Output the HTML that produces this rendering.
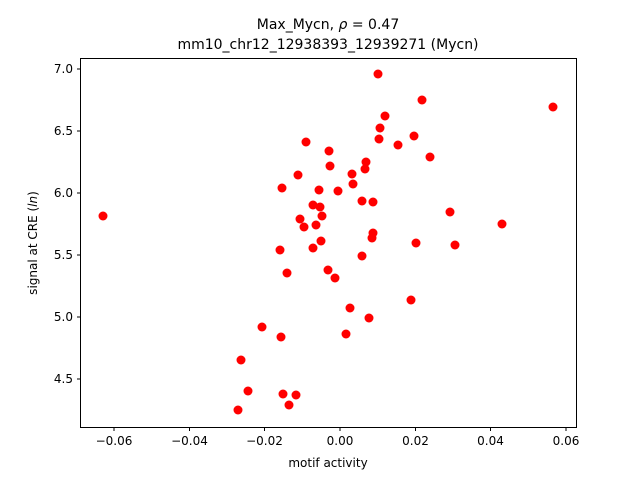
<!DOCTYPE html>
<html><head><meta charset="utf-8"><style>body{margin:0;background:#fff}svg{display:block}text{font-family:"DejaVu Sans","Liberation Sans",sans-serif;fill:#000}</style></head>
<body>
<svg width="640" height="480" xmlns="http://www.w3.org/2000/svg">
<rect width="640" height="480" fill="#fff"/>
<g fill="#ff0000">
<circle cx="103" cy="216" r="4.5"/><circle cx="553" cy="107" r="4.5"/><circle cx="378" cy="74" r="4.5"/><circle cx="422" cy="100" r="4.5"/><circle cx="385" cy="116" r="4.5"/><circle cx="380" cy="128" r="4.5"/><circle cx="379" cy="139" r="4.5"/><circle cx="414" cy="136" r="4.5"/><circle cx="398" cy="145" r="4.5"/><circle cx="430" cy="157" r="4.5"/><circle cx="306" cy="142" r="4.5"/><circle cx="329" cy="151" r="4.5"/><circle cx="330" cy="166" r="4.5"/><circle cx="366" cy="162" r="4.5"/><circle cx="365" cy="169" r="4.5"/><circle cx="352" cy="174" r="4.5"/><circle cx="353" cy="184" r="4.5"/><circle cx="282" cy="188" r="4.5"/><circle cx="319" cy="190" r="4.5"/><circle cx="298" cy="175" r="4.5"/><circle cx="338" cy="191" r="4.5"/><circle cx="362" cy="201" r="4.5"/><circle cx="373" cy="202" r="4.5"/><circle cx="450" cy="212" r="4.5"/><circle cx="313" cy="205" r="4.5"/><circle cx="320" cy="207" r="4.5"/><circle cx="322" cy="216" r="4.5"/><circle cx="300" cy="219" r="4.5"/><circle cx="304" cy="227" r="4.5"/><circle cx="316" cy="225" r="4.5"/><circle cx="321" cy="241" r="4.5"/><circle cx="313" cy="248" r="4.5"/><circle cx="280" cy="250" r="4.5"/><circle cx="287" cy="273" r="4.5"/><circle cx="328" cy="270" r="4.5"/><circle cx="335" cy="278" r="4.5"/><circle cx="362" cy="256" r="4.5"/><circle cx="373" cy="233" r="4.5"/><circle cx="372" cy="238" r="4.5"/><circle cx="416" cy="243" r="4.5"/><circle cx="455" cy="245" r="4.5"/><circle cx="502" cy="224" r="4.5"/><circle cx="350" cy="308" r="4.5"/><circle cx="411" cy="300" r="4.5"/><circle cx="369" cy="318" r="4.5"/><circle cx="346" cy="334" r="4.5"/><circle cx="262" cy="327" r="4.5"/><circle cx="281" cy="337" r="4.5"/><circle cx="241" cy="360" r="4.5"/><circle cx="248" cy="391" r="4.5"/><circle cx="283" cy="394" r="4.5"/><circle cx="296" cy="395" r="4.5"/><circle cx="289" cy="405" r="4.5"/><circle cx="238" cy="410" r="4.5"/>
</g>
<rect x="80.5" y="58.5" width="496" height="369" fill="none" stroke="#000" stroke-width="1"/>
<g stroke="#000" stroke-width="1">
<line x1="114" y1="427.5" x2="114" y2="431"/><line x1="189.5" y1="427.5" x2="189.5" y2="431"/><line x1="264.5" y1="427.5" x2="264.5" y2="431"/><line x1="340" y1="427.5" x2="340" y2="431"/><line x1="415.5" y1="427.5" x2="415.5" y2="431"/><line x1="490.5" y1="427.5" x2="490.5" y2="431"/><line x1="566" y1="427.5" x2="566" y2="431"/>
<line x1="77" y1="69" x2="80.5" y2="69"/><line x1="77" y1="131" x2="80.5" y2="131"/><line x1="77" y1="193" x2="80.5" y2="193"/><line x1="77" y1="255" x2="80.5" y2="255"/><line x1="77" y1="317" x2="80.5" y2="317"/><line x1="77" y1="379" x2="80.5" y2="379"/>
</g>
<g font-size="12" text-anchor="middle">
<text x="114" y="445">−0.06</text><text x="189.5" y="445">−0.04</text><text x="264.5" y="445">−0.02</text><text x="340" y="445">0.00</text><text x="415.5" y="445">0.02</text><text x="490.5" y="445">0.04</text><text x="566" y="445">0.06</text>
<text x="328" y="467">motif activity</text>
</g>
<g font-size="12" text-anchor="end">
<text x="73" y="73">7.0</text><text x="73" y="135">6.5</text><text x="73" y="197">6.0</text><text x="73" y="259">5.5</text><text x="73" y="321">5.0</text><text x="73" y="383">4.5</text>
</g>
<text font-size="12" text-anchor="middle" transform="translate(37,243) rotate(-90)">signal at CRE (<tspan font-style="italic">ln</tspan>)</text>
<g font-size="14" text-anchor="middle">
<text x="328" y="29">Max_Mycn, <tspan font-style="italic">ρ</tspan> = 0.47</text>
<text x="328" y="49">mm10_chr12_12938393_12939271 (Mycn)</text>
</g>
</svg>
</body></html>
